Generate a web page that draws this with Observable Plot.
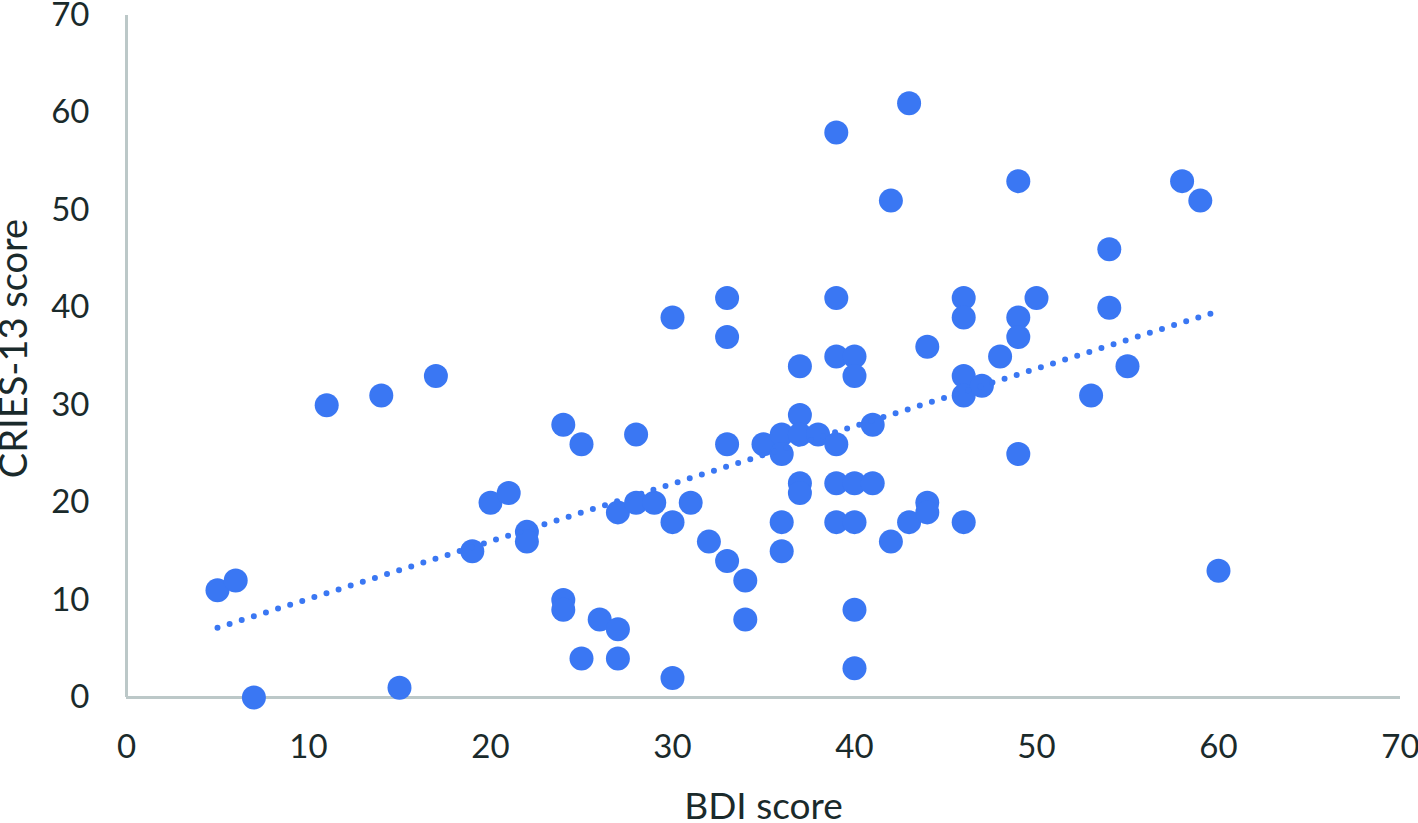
<!DOCTYPE html>
<html>
<head>
<meta charset="utf-8">
<script src="https://cdn.jsdelivr.net/npm/d3@7"></script>
<script src="https://cdn.jsdelivr.net/npm/@observablehq/plot@0.6"></script>
<style>
  html, body { margin: 0; padding: 0; background: #ffffff; }
  #chart svg { display: block; }
</style>
</head>
<body>
<div id="chart"></div>
<script>
const bdi   = [5, 6, 7, 11, 14, 15, 17, 19, 20, 21, 22, 22, 24, 24, 24, 25, 25, 26, 27, 27, 27, 28, 28, 29, 30, 30, 30, 31, 32, 33, 33, 33, 33, 34, 34, 35, 36, 36, 36, 36, 37, 37, 37, 37, 37, 38, 39, 39, 39, 39, 39, 39, 40, 40, 40, 40, 40, 40, 41, 41, 42, 42, 43, 43, 44, 44, 44, 46, 46, 46, 46, 46, 47, 48, 49, 49, 49, 49, 50, 53, 54, 54, 55, 58, 59, 60];
const cries = [11, 12, 0, 30, 31, 1, 33, 15, 20, 21, 17, 16, 28, 10, 9, 26, 4, 8, 7, 4, 19, 20, 27, 20, 39, 18, 2, 20, 16, 41, 37, 26, 14, 12, 8, 26, 27, 25, 18, 15, 34, 29, 27, 22, 21, 27, 58, 41, 35, 26, 22, 18, 35, 33, 22, 18, 9, 3, 28, 22, 51, 16, 61, 18, 36, 20, 19, 41, 39, 33, 31, 18, 32, 35, 53, 39, 37, 25, 41, 31, 46, 40, 34, 53, 51, 13];
const xTicks = [0, 10, 20, 30, 40, 50, 60, 70];
const yTicks = [0, 10, 20, 30, 40, 50, 60, 70];
const xTitle = "BDI score";
const yTitle = "CRIES-13 score";

const data = bdi.map((b, i) => ({bdi: b, cries: cries[i]}));

const textColor = "#1a2a2b";
const axisColor = "#bcc8c8";
const dotColor = "#3a77f3";
const font = "Lato, 'Open Sans', sans-serif";

const chart = Plot.plot({
  width: 1418,
  height: 823,
  marginLeft: 126,
  marginTop: 15,
  marginRight: 18,
  marginBottom: 126,
  style: {fontFamily: font, background: "#ffffff"},
  x: {domain: [0, 70]},
  y: {domain: [0, 70]},
  marks: [
    Plot.ruleY([0], {stroke: axisColor, strokeWidth: 3}),
    Plot.ruleX([0], {stroke: axisColor, strokeWidth: 3}),
    Plot.axisX({ticks: xTicks, tickSize: 0, tickPadding: 37, fontSize: 33, color: textColor, label: null}),
    Plot.axisY({ticks: yTicks, tickSize: 0, tickPadding: 37, fontSize: 33, color: textColor, label: null}),
    Plot.dot(data, {x: "bdi", y: "cries", r: 12, fill: dotColor, stroke: "none"}),
    Plot.linearRegressionY(data, {x: "bdi", y: "cries", ci: 0, stroke: dotColor, strokeWidth: 6, strokeDasharray: "0,12.7", strokeLinecap: "round"}),
    Plot.text([xTitle], {frameAnchor: "bottom", textAnchor: "middle", dy: 121, fontSize: 37, fill: textColor, text: d => d}),
    Plot.text([yTitle], {frameAnchor: "left", textAnchor: "middle", dx: -112, dy: -8, rotate: -90, fontSize: 38, fill: textColor, text: d => d})
  ]
});
document.getElementById("chart").appendChild(chart);
</script>
</body>
</html>
